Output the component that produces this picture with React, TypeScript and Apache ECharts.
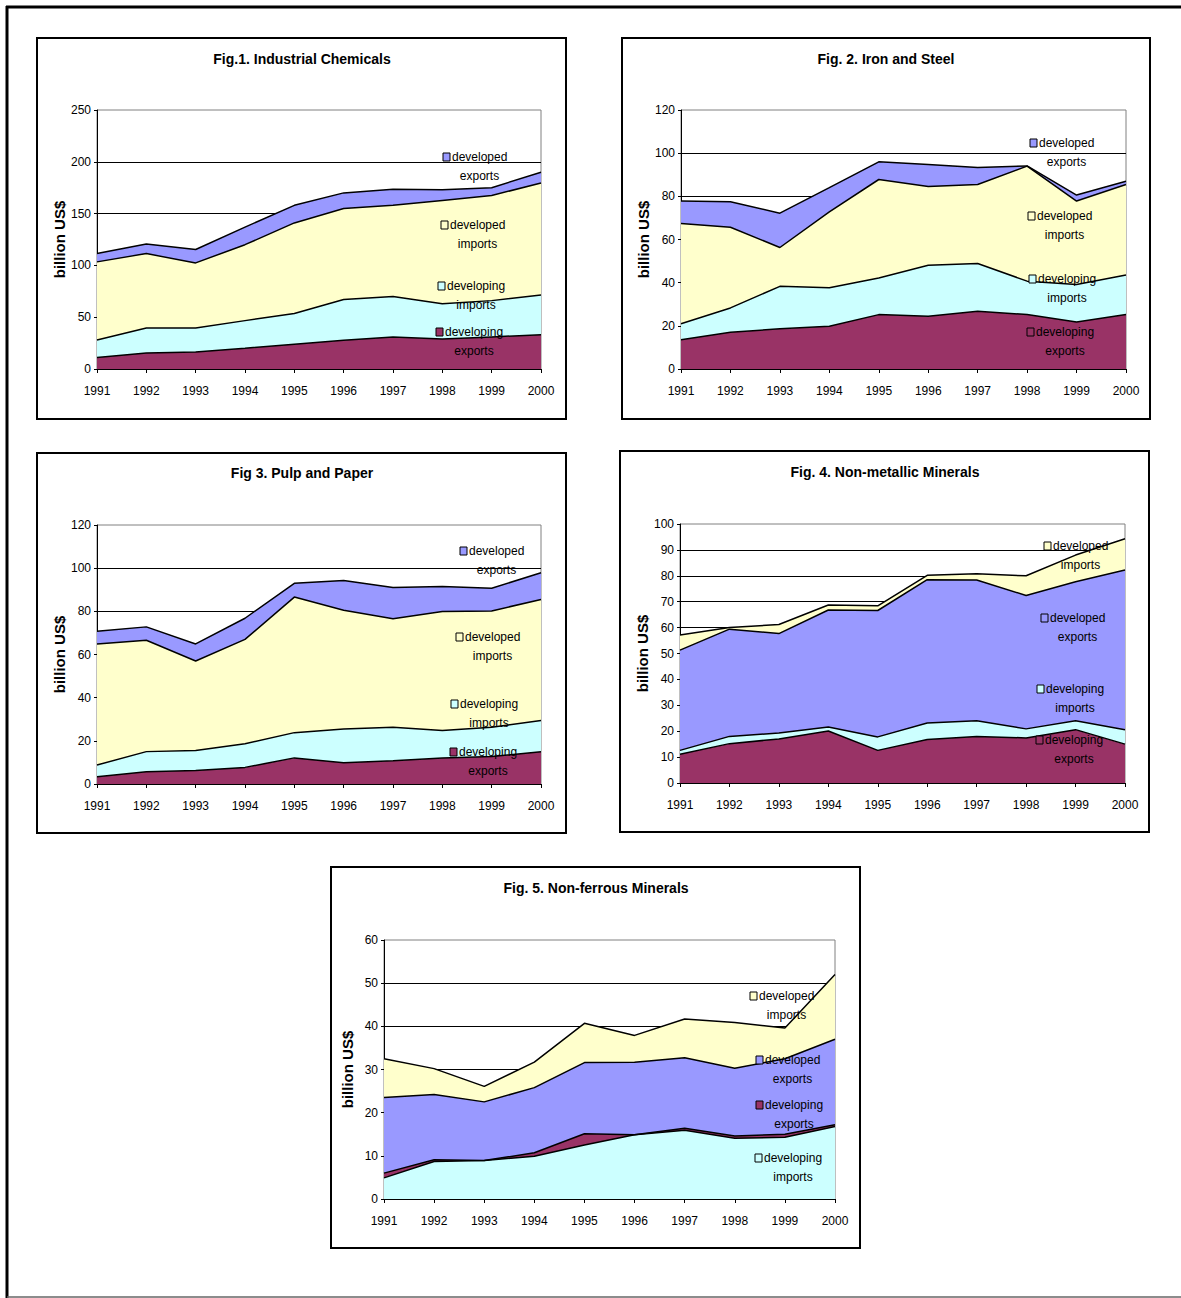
import React, { useEffect, useRef } from "react";
import * as echarts from "echarts";

const years = ["1991", "1992", "1993", "1994", "1995", "1996", "1997", "1998", "1999", "2000"];

// Fig.1 Industrial Chemicals (stack order bottom -> top)
const chemDevelopingExports = [11, 15.5, 16.4, 20, 24, 27.7, 31, 29, 31, 33];
const chemDevelopingImports = [17, 24, 23.2, 26.7, 29.5, 39.3, 39, 34, 35, 38.5];
const chemDevelopedImports = [75.4, 71.9, 62.8, 73.3, 87.5, 88, 88, 99.7, 101.5, 108];
const chemDevelopedExports = [8.1, 9.3, 12.9, 17, 17, 15, 15.6, 10.3, 7.5, 10.5];

// Fig.2 Iron and Steel
const steelDevelopingExports = [13.5, 17, 18.6, 19.8, 25.2, 24.4, 26.8, 25.2, 21.8, 25.2];
const steelDevelopingImports = [7.5, 11.3, 19.7, 17.8, 17, 23.7, 22.1, 15.5, 17.3, 18.4];
const steelDevelopedImports = [46.4, 37.4, 18, 35.2, 45.6, 36.5, 36.6, 53.3, 38.7, 41.9];
const steelDevelopedExports = [10.4, 11.8, 15.9, 11.2, 8.2, 10.2, 7.9, 0.1, 2.8, 1.5];

// Fig.3 Pulp and Paper
const paperDevelopingExports = [3.4, 5.7, 6.2, 7.7, 12.1, 9.9, 10.8, 12.1, 12.7, 14.9];
const paperDevelopingImports = [5.4, 9.3, 9.3, 10.9, 11.7, 15.6, 15.5, 12.7, 13.6, 14.5];
const paperDevelopedImports = [56.1, 51.6, 41.5, 48.4, 62.8, 55, 50.3, 55.1, 53.9, 56.1];
const paperDevelopedExports = [5.9, 6.2, 7.9, 9.8, 6.4, 13.8, 14.4, 11.6, 10.5, 12.4];

// Fig.4 Non-metallic Minerals
const nonmetDevelopingExports = [11.1, 15.2, 17, 20.1, 12.6, 16.8, 18, 17.4, 20.6, 15];
const nonmetDevelopingImports = [1.5, 2.8, 2.3, 1.5, 5.2, 6.4, 6, 3.5, 3.4, 5.6];
const nonmetDevelopedExports = [38.7, 41.4, 38.4, 45.2, 48.8, 55.3, 54.4, 51.5, 53.7, 61.6];
const nonmetDevelopedImports = [5.8, 0.6, 3.5, 1.9, 1.8, 1.7, 2.4, 7.6, 10.3, 12.1];

// Fig.5 Non-ferrous Minerals
const nonferDevelopingImports = [4.9, 8.7, 8.9, 9.9, 12.5, 14.9, 15.9, 14.1, 14.3, 16.8];
const nonferDevelopingExports = [1.1, 0.4, 0, 0.8, 2.6, 0, 0.5, 0.5, 0.7, 0.4];
const nonferDevelopedExports = [17.5, 15.1, 13.6, 15.1, 16.5, 16.8, 16.3, 15.7, 17.5, 19.8];
const nonferDevelopedImports = [9, 6, 3.6, 5.9, 9.1, 6.2, 9, 10.6, 7.1, 15];

const titles = [
  "Fig.1. Industrial Chemicals",
  "Fig. 2. Iron and Steel",
  "Fig 3. Pulp and Paper",
  "Fig. 4. Non-metallic Minerals",
  "Fig. 5. Non-ferrous Minerals",
];
const yMaxes = [250, 120, 120, 100, 60];
const yIntervals = [50, 20, 20, 10, 10];

const MAROON = "#993366";
const CYAN = "#CCFFFF";
const YELLOW = "#FFFFCC";
const BLUE = "#9999FF";

type S = { name: string; data: number[]; color: string };

const chartSeries: S[][] = [
  [
    { name: "developing\nexports", data: chemDevelopingExports, color: MAROON },
    { name: "developing\nimports", data: chemDevelopingImports, color: CYAN },
    { name: "developed\nimports", data: chemDevelopedImports, color: YELLOW },
    { name: "developed\nexports", data: chemDevelopedExports, color: BLUE },
  ],
  [
    { name: "developing\nexports", data: steelDevelopingExports, color: MAROON },
    { name: "developing\nimports", data: steelDevelopingImports, color: CYAN },
    { name: "developed\nimports", data: steelDevelopedImports, color: YELLOW },
    { name: "developed\nexports", data: steelDevelopedExports, color: BLUE },
  ],
  [
    { name: "developing\nexports", data: paperDevelopingExports, color: MAROON },
    { name: "developing\nimports", data: paperDevelopingImports, color: CYAN },
    { name: "developed\nimports", data: paperDevelopedImports, color: YELLOW },
    { name: "developed\nexports", data: paperDevelopedExports, color: BLUE },
  ],
  [
    { name: "developing\nexports", data: nonmetDevelopingExports, color: MAROON },
    { name: "developing\nimports", data: nonmetDevelopingImports, color: CYAN },
    { name: "developed\nexports", data: nonmetDevelopedExports, color: BLUE },
    { name: "developed\nimports", data: nonmetDevelopedImports, color: YELLOW },
  ],
  [
    { name: "developing\nimports", data: nonferDevelopingImports, color: CYAN },
    { name: "developing\nexports", data: nonferDevelopingExports, color: MAROON },
    { name: "developed\nexports", data: nonferDevelopedExports, color: BLUE },
    { name: "developed\nimports", data: nonferDevelopedImports, color: YELLOW },
  ],
];

// layout (pixels)
const layouts = [
  { grid: [97, 110, 444, 259], box: [37, 38, 529, 381], title: [302, 60],
    legend: { "developed\nexports": [443, 157], "developed\nimports": [441, 225], "developing\nimports": [438, 286], "developing\nexports": [436, 332] } },
  { grid: [681, 110, 445, 259], box: [622, 38, 528, 381], title: [886, 60],
    legend: { "developed\nexports": [1030, 143], "developed\nimports": [1028, 216], "developing\nimports": [1029, 279], "developing\nexports": [1027, 332] } },
  { grid: [97, 525, 444, 259], box: [37, 453, 529, 380], title: [302, 474],
    legend: { "developed\nexports": [460, 551], "developed\nimports": [456, 637], "developing\nimports": [451, 704], "developing\nexports": [450, 752] } },
  { grid: [680, 524, 445, 259], box: [620, 451, 529, 381], title: [885, 473],
    legend: { "developed\nimports": [1044, 546], "developed\nexports": [1041, 618], "developing\nimports": [1037, 689], "developing\nexports": [1036, 740] } },
  { grid: [384, 940, 451, 259], box: [331, 867, 529, 381], title: [596, 889],
    legend: { "developed\nimports": [750, 996], "developed\nexports": [756, 1060], "developing\nexports": [756, 1105], "developing\nimports": [755, 1158] } },
];

const ARIAL = "'Liberation Sans', Arial, sans-serif";

function buildOption() {
  const grid: any[] = [];
  const xAxis: any[] = [];
  const yAxis: any[] = [];
  const series: any[] = [];
  const title: any[] = [];
  const elements: any[] = [];

  // outer frame
  elements.push({ type: "line", z: 100, shape: { x1: 6, y1: 7, x2: 1181, y2: 7 }, style: { stroke: "#000", lineWidth: 3 } });
  elements.push({ type: "line", z: 100, shape: { x1: 7, y1: 6, x2: 7, y2: 1298 }, style: { stroke: "#000", lineWidth: 3 } });
  elements.push({ type: "line", z: 100, shape: { x1: 7, y1: 1297, x2: 1181, y2: 1297 }, style: { stroke: "#666", lineWidth: 1.5 } });

  layouts.forEach((L, i) => {
    grid.push({
      left: L.grid[0], top: L.grid[1], width: L.grid[2], height: L.grid[3],
      show: true, borderColor: "#808080", borderWidth: 1, backgroundColor: "transparent",
    });
    xAxis.push({
      gridIndex: i, type: "category", data: years, boundaryGap: false,
      axisLine: { show: true, lineStyle: { color: "#000", width: 1 } },
      axisTick: { show: true, length: 4, interval: 0, lineStyle: { color: "#000" } },
      axisLabel: { interval: 0, fontSize: 12, color: "#000", margin: 16, fontFamily: ARIAL },
      splitLine: { show: false },
    });
    yAxis.push({
      gridIndex: i, type: "value", min: 0, max: yMaxes[i], interval: yIntervals[i],
      axisLine: { show: true, lineStyle: { color: "#000", width: 1 } },
      axisTick: { show: true, length: 3, lineStyle: { color: "#000" } },
      axisLabel: { fontSize: 12, color: "#000", margin: 6, fontFamily: ARIAL },
      splitLine: { show: true, showMaxLine: false, showMinLine: false, lineStyle: { color: "#000", width: 1 } },
      name: "billion US$", nameLocation: "middle", nameGap: 29,
      nameTextStyle: { fontWeight: "bold", fontSize: 15, color: "#000", fontFamily: ARIAL },
    });
    chartSeries[i].forEach((s) => {
      series.push({
        type: "line", name: s.name, xAxisIndex: i, yAxisIndex: i, stack: "a" + i,
        data: s.data, symbol: "none", z: 2,
        lineStyle: { width: 0, color: s.color },
        itemStyle: { color: s.color },
        areaStyle: { color: s.color, opacity: 1 },
      });
    });
    chartSeries[i].forEach((s) => {
      series.push({
        type: "line", name: s.name + " outline", xAxisIndex: i, yAxisIndex: i, stack: "o" + i,
        data: s.data, symbol: "none", z: 3, silent: true,
        lineStyle: { width: 1.5, color: "#000" },
        itemStyle: { color: "#000" },
      });
    });
    title.push({
      text: titles[i], left: L.title[0], top: L.title[1] - 8, textAlign: "center", padding: 0,
      textStyle: { fontSize: 14, fontWeight: "bold", color: "#000", fontFamily: ARIAL },
    });
    elements.push({
      type: "rect", z: 100, shape: { x: L.box[0], y: L.box[1], width: L.box[2], height: L.box[3] },
      style: { fill: "none", stroke: "#000", lineWidth: 2 },
    });
    chartSeries[i].forEach((s) => {
      const pos = (L.legend as any)[s.name];
      const lines = s.name.split("\n");
      const textLeft = pos[0] + 9;
      const firstWidth = lines[0] === "developing" ? 58 : 55;
      elements.push({
        type: "rect", z: 110, shape: { x: pos[0], y: pos[1] - 4, width: 7, height: 8 },
        style: { fill: s.color, stroke: "#000", lineWidth: 1 },
      });
      elements.push({
        type: "text", z: 110, x: textLeft, y: pos[1],
        style: {
          text: lines[0], fill: "#000", fontSize: 12, fontFamily: ARIAL,
          textAlign: "left", textVerticalAlign: "middle",
        },
      });
      elements.push({
        type: "text", z: 110, x: textLeft + firstWidth / 2, y: pos[1] + 19,
        style: {
          text: lines[1], fill: "#000", fontSize: 12, fontFamily: ARIAL,
          textAlign: "center", textVerticalAlign: "middle",
        },
      });
    });
  });

  return {
    animation: false,
    backgroundColor: "#fff",
    title, grid, xAxis, yAxis, series,
    graphic: { elements },
  };
}

export default function App() {
  const ref = useRef<HTMLDivElement>(null);
  useEffect(() => {
    if (!ref.current) return;
    const chart = echarts.init(ref.current, undefined, { renderer: "svg" });
    chart.setOption(buildOption() as any);
    return () => chart.dispose();
  }, []);
  return (
    <div
      ref={ref}
      style={{ position: "absolute", left: 0, top: 0, width: 1181, height: 1298, background: "#fff" }}
    />
  );
}
